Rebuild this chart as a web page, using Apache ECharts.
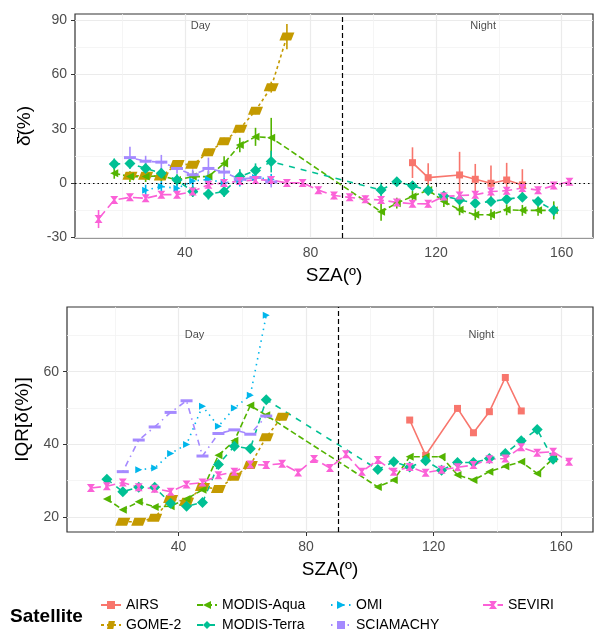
<!DOCTYPE html>
<html>
<head>
<meta charset="utf-8">
<script src="https://cdn.jsdelivr.net/npm/echarts@6/dist/echarts.min.js"></script>
<style>
  html, body { margin: 0; padding: 0; background: #fff; }
  #chart { width: 595px; height: 637px; }
</style>
</head>
<body>
<div id="chart"></div>
<script>
// AIRS
const szaAIRS = [112.5, 117.5, 127.5, 132.5, 137.5, 142.5, 147.5]
const meanAIRS = [11.2, 2.9, 4.4, 2, -0.2, 1.6, -1.1]
const errAIRS = [8.5, 8, 12.8, 8.5, 9.8, 9.5, 8.7]
const iqrAIRS = [46.7, 37, 49.9, 43.2, 49, 58.4, 49.2]

// GOME-2
const szaGOME = [22.5, 27.5, 32.5, 37.5, 42.5, 47.5, 52.5, 57.5, 62.5, 67.5, 72.5]
const meanGOME = [4, 4, 3.5, 10.5, 10, 17, 23, 30, 40, 53, 81]
const errGOME = [2, 2, 2, 2, 2, 2, 2, 2, 2, 3, 7]
const iqrGOME = [18.7, 18.7, 19.8, 25, 24.2, 28.3, 27.7, 31.1, 34.3, 42, 47.6]

// MODIS (Aqua and Terra share the same bins)
const szaMODIS = [17.5, 22.5, 27.5, 32.5, 37.5, 42.5, 47.5, 52.5, 57.5, 62.5, 67.5,
  102.5, 107.5, 112.5, 117.5, 122.5, 127.5, 132.5, 137.5, 142.5, 147.5, 152.5, 157.5]
const meanAqua = [5.3, 3.5, 3.5, 4, 1.6, 3.5, 3.5, 10.8, 21, 25.5, 25,
  -16, -11.2, -7.5, -3.9, -10.3, -14.9, -17.6, -17.6, -14.9, -15.2, -15.2, -15.2]
const errAqua = [3, 3, 3, 3, 3, 3, 3, 4, 4, 5, 11, 5, 3, 3, 3, 3, 3, 3, 3, 3, 3, 3, 5]
const iqrAqua = [25, 22, 24.2, 22.8, 23, 25, 27.5, 37, 41, 50.7, 48,
  28.3, 30.2, 36.6, 36.6, 36.6, 31.6, 30.2, 32.5, 34, 35.2, 32, 36.1]
const meanTerra = [10.5, 10.8, 8, 5.3, 1.6, -4.8, -6.2, -4.8, 3.5, 6.8, 11.8,
  -3.9, 0.7, -1.6, -4.2, -7.2, -9.4, -11.2, -10.3, -9, -7.9, -10.3, -15.2]
const errTerra = [3, 3, 3, 3, 3, 3, 3, 3, 4, 4, 6, 4, 2, 2, 2, 2, 2, 2, 2, 2, 2, 2, 3]
const iqrTerra = [30.4, 27, 28.2, 28.2, 23.8, 23, 24, 34.5, 39.5, 38.8, 52.3,
  33.1, 35.2, 33.8, 35.5, 32.9, 35, 35, 36.1, 37.5, 41, 44.1, 35.9]

// OMI
const szaOMI = [27.5, 32.5, 37.5, 42.5, 47.5, 52.5, 57.5, 62.5, 67.5]
const meanOMI = [-4, -2, -3, 1, 2, 0, 1, 3, 2]
const errOMI = [3, 3, 3, 3, 3, 3, 3, 3, 3]
const iqrOMI = [33, 33.5, 37.5, 40, 50.5, 45, 50, 53.5, 75.5]

// SCIAMACHY
const szaSCIA = [22.5, 27.5, 32.5, 37.5, 42.5, 47.5, 52.5, 57.5, 62.5, 67.5]
const meanSCIA = [14, 12, 11.5, 8, 4.5, 8, 6, 2, 3, 0.5]
const errSCIA = [6, 3, 4, 3, 3, 6, 3, 3, 3, 3]
const iqrSCIA = [32.5, 41.2, 44.8, 48.8, 52, 36.8, 43, 44, 42.8, 47.8]

// SEVIRI
const szaSEV = [12.5, 17.5, 22.5, 27.5, 32.5, 37.5, 42.5, 47.5, 52.5, 57.5, 62.5, 67.5, 72.5,
  77.5, 82.5, 87.5, 92.5, 97.5, 102.5, 107.5, 112.5, 117.5, 122.5, 127.5, 132.5, 137.5,
  142.5, 147.5, 152.5, 157.5, 162.5]
const meanSEV = [-20, -9.5, -8, -8.5, -6.5, -6.5, -4.8, -1, 0, 1, 1.6, 1.6, 0,
  0, -4, -7, -8, -9, -9.5, -10.8, -11.5, -11.6, -7.5, -7, -6.6, -4.8, -4.3, -2.8, -4, -1.5, 0.7]
const errSEV = [5, 2, 2, 2, 2, 2, 2, 2, 2, 2, 2, 2, 2,
  2, 2, 2, 2, 2, 2, 2, 2, 2, 2, 2, 2, 2, 2, 2, 2, 2, 2]
const iqrSEV = [28, 28.5, 29.5, 28.2, 27.8, 27, 29, 29.5, 31.5, 32.5, 34.5, 34.3, 34.7,
  32.3, 36, 33.5, 37.3, 32.5, 35.7, 32.5, 33.8, 32.2, 33, 33.7, 34.3, 35.9, 36.1, 39.2, 37.7, 38, 35.2]

// axis ticks
const xTicks = [40, 80, 120, 160]
const xMinor = [20, 60, 100, 140]
const meanTicks = [-30, 0, 30, 60, 90]
const meanMinor = [-15, 15, 45, 75]
const iqrTicks = [20, 40, 60]
const iqrMinor = [30, 50, 70]

const satellites = [
  { name: 'AIRS', sza: szaAIRS, mean: meanAIRS, err: errAIRS, iqr: iqrAIRS,
    color: '#F8766D', dash: 'solid', symbol: 'rect', size: 7, rotate: 0 },
  { name: 'GOME-2', sza: szaGOME, mean: meanGOME, err: errGOME, iqr: iqrGOME,
    color: '#C49A00', dash: [3, 3], symbol: 'path://M3,0L14,0L11,7L0,7Z', size: [15, 8], rotate: 0 },
  { name: 'MODIS-Aqua', sza: szaMODIS, mean: meanAqua, err: errAqua, iqr: iqrAqua,
    color: '#53B400', dash: [6, 3], symbol: 'triangle', size: 8, rotate: 90 },
  { name: 'MODIS-Terra', sza: szaMODIS, mean: meanTerra, err: errTerra, iqr: iqrTerra,
    color: '#00C094', dash: [6, 6], symbol: 'diamond', size: 11, rotate: 0 },
  { name: 'OMI', sza: szaOMI, mean: meanOMI, err: errOMI, iqr: iqrOMI,
    color: '#00B6EB', dash: [1.5, 4.5], symbol: 'triangle', size: 7, rotate: -90 },
  { name: 'SCIAMACHY', sza: szaSCIA, mean: meanSCIA, err: errSCIA, iqr: iqrSCIA,
    color: '#A58AFF', dash: [1.5, 4.5, 6, 4.5], symbol: 'rect', size: [12, 3], rotate: 0 },
  { name: 'SEVIRI', sza: szaSEV, mean: meanSEV, err: errSEV, iqr: iqrSEV,
    color: '#FB61D7', dash: [10, 4.5], symbol: 'path://M0,0L8,0L5,4L8,8L0,8L3,4Z', size: 8, rotate: 0 }
]

const font = '"Liberation Sans", Arial, sans-serif'
const chart = echarts.init(document.getElementById('chart'), null, { renderer: 'canvas' })

function mainX(gridIndex) {
  return {
    type: 'value', gridIndex, min: 5, max: 170, position: 'bottom',
    name: 'SZA(º)', nameLocation: 'middle', nameGap: 28,
    nameTextStyle: { fontSize: 19, color: '#000', fontFamily: font },
    axisLine: { show: false },
    axisTick: { show: true, length: 4, customValues: xTicks, lineStyle: { color: '#333' } },
    axisLabel: { customValues: xTicks, color: '#4D4D4D', fontSize: 14, margin: 8, fontFamily: font },
    splitLine: { show: true, lineStyle: { color: '#EBEBEB', width: 1.2 } }
  }
}
function minorX(gridIndex) {
  return {
    type: 'value', gridIndex, min: 5, max: 170, position: 'top',
    axisLine: { show: false }, axisLabel: { show: false },
    axisTick: { show: false, customValues: xMinor },
    splitLine: { show: true, lineStyle: { color: '#F2F2F2', width: 0.8 } }
  }
}
function mainY(gridIndex, min, max, ticks, name, gap) {
  return {
    type: 'value', gridIndex, min, max, position: 'left',
    name, nameLocation: 'middle', nameGap: gap,
    nameTextStyle: { fontSize: 19, color: '#000', fontFamily: font },
    axisLine: { show: false },
    axisTick: { show: true, length: 4, customValues: ticks, lineStyle: { color: '#333' } },
    axisLabel: { customValues: ticks, color: '#4D4D4D', fontSize: 14, margin: 8, fontFamily: font },
    splitLine: { show: true, lineStyle: { color: '#EBEBEB', width: 1.2 } }
  }
}
function minorY(gridIndex, min, max, ticks) {
  return {
    type: 'value', gridIndex, min, max, position: 'right',
    axisLine: { show: false }, axisLabel: { show: false },
    axisTick: { show: false, customValues: ticks },
    splitLine: { show: true, lineStyle: { color: '#F2F2F2', width: 0.8 } }
  }
}

function renderErrorBar(params, api) {
  const hi = api.coord([api.value(0), api.value(2)])
  const lo = api.coord([api.value(0), api.value(1)])
  return {
    type: 'line',
    shape: { x1: hi[0], y1: hi[1], x2: lo[0], y2: lo[1] },
    style: { stroke: api.visual('color'), lineWidth: 1.6 }
  }
}

const series = []
satellites.forEach(s => {
  const base = {
    name: s.name, type: 'line', symbol: s.symbol, symbolSize: s.size, symbolRotate: s.rotate,
    showAllSymbol: true, itemStyle: { color: s.color }, z: 3,
    lineStyle: { color: s.color, width: 1.6, type: s.dash }
  }
  series.push(Object.assign({}, base, {
    xAxisIndex: 0, yAxisIndex: 0, data: s.sza.map((x, i) => [x, s.mean[i]])
  }))
  series.push({
    name: s.name, type: 'custom', xAxisIndex: 0, yAxisIndex: 0, clip: true, z: 2,
    itemStyle: { color: s.color }, renderItem: renderErrorBar,
    data: s.sza.map((x, i) => [x, s.mean[i] - s.err[i], s.mean[i] + s.err[i]])
  })
  series.push(Object.assign({}, base, {
    xAxisIndex: 2, yAxisIndex: 2, data: s.sza.map((x, i) => [x, s.iqr[i]])
  }))
})

// panel annotations: Day / Night labels, reference lines
function notes(xi, yi, yText, withZero) {
  const lines = [{ xAxis: 90, lineStyle: { type: [5, 3], color: '#000', width: 1.2 } }]
  if (withZero) lines.push({ yAxis: 0, lineStyle: { type: [1.5, 3], color: '#000', width: 1.2 } })
  return {
    type: 'scatter', xAxisIndex: xi, yAxisIndex: yi, symbolSize: 0, silent: true, z: 4,
    data: [[45, yText, 'Day'], [135, yText, 'Night']],
    label: {
      show: true, position: 'inside', formatter: p => p.value[2],
      fontSize: 11, color: '#1A1A1A', fontFamily: font
    },
    markLine: { silent: true, symbol: ['none', 'none'], label: { show: false }, data: lines }
  }
}
series.push(notes(0, 0, 87, true))
series.push(notes(2, 2, 70, false))

const legendCols = [['AIRS', 'GOME-2'], ['MODIS-Aqua', 'MODIS-Terra'], ['OMI', 'SCIAMACHY'], ['SEVIRI']]
const legendLeft = [100, 196, 330, 482]

chart.setOption({
  animation: false,
  backgroundColor: '#fff',
  textStyle: { fontFamily: font },
  grid: [
    { left: 75, right: 2, top: 14, height: 224, show: true, borderColor: '#333', borderWidth: 1.2, backgroundColor: '#fff' },
    { left: 67, right: 2, top: 307, height: 225, show: true, borderColor: '#333', borderWidth: 1.2, backgroundColor: '#fff' }
  ],
  xAxis: [mainX(0), minorX(0), mainX(1), minorX(1)],
  yAxis: [
    mainY(0, -30.5, 93.5, meanTicks, 'δ̄(%)', 41),
    minorY(0, -30.5, 93.5, meanMinor),
    mainY(1, 15.9, 77.8, iqrTicks, 'IQR[δ(%)]', 35),
    minorY(1, 15.9, 77.8, iqrMinor)
  ],
  legend: legendCols.map((col, k) => ({
    orient: 'vertical', left: legendLeft[k], top: 598, height: 45, padding: 0, itemGap: 6,
    itemWidth: 20, itemHeight: 10, data: col,
    textStyle: { fontSize: 14, color: '#000', fontFamily: font }
  })),
  graphic: [{
    type: 'text', left: 10, top: 607,
    style: { text: 'Satellite', font: 'bold 19px "Liberation Sans", Arial, sans-serif', fill: '#000' }
  }],
  series
})
</script>
</body>
</html>
